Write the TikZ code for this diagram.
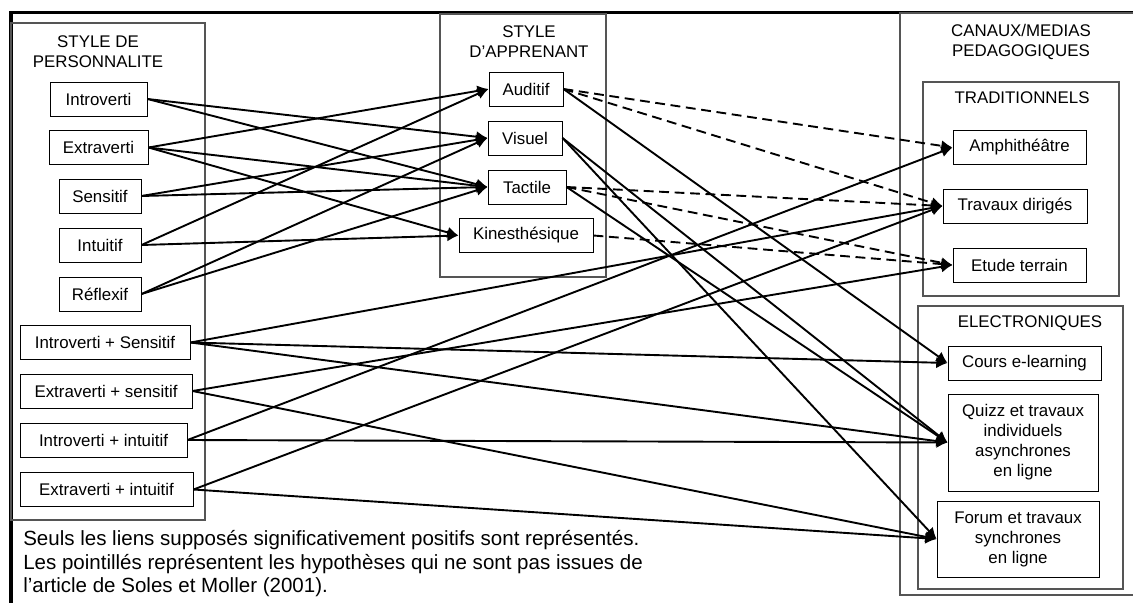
\documentclass[tikz,border=0pt]{standalone}
\usepackage{fontspec}
\setmainfont{Liberation Sans}
\usetikzlibrary{arrows.meta}
\definecolor{boxgray}{RGB}{85,85,85}

\tikzset{
  groupbox/.style={rectangle, draw=boxgray, line width=0.8pt, inner sep=0pt},
  grouptitle/.style={align=center, inner sep=0pt, font=\fontsize{12}{14.2}\selectfont},
  itembox/.style={rectangle, draw=black, line width=0.7pt, minimum height=0.85cm, inner sep=0pt, align=center, font=\fontsize{12}{14.2}\selectfont},
  link/.style={-{Latex[length=8pt,width=8pt]}, line width=1.35pt},
  hypo/.style={link, dash pattern=on 7pt off 4pt},
}

\begin{document}
\begin{tikzpicture}
\useasboundingbox (0,0) rectangle (28.325,-15.075);

% Outer frame
\draw[line width=2.2pt] (0.275,-15.2) -- (0.275,-0.3125) -- (28.5,-0.3125);

% Group boxes
\node[groupbox, minimum width=4.85cm, minimum height=12.425cm] (perso) at (2.7,-6.7875) {};
\node[grouptitle] (persotitle) at (2.45,-1.29) {STYLE DE\\PERSONNALITE};

\node[groupbox, minimum width=4.15cm, minimum height=6.575cm] (appr) at (13.075,-3.6375) {};
\node[grouptitle] (apprtitle) at (13.225,-1.05) {STYLE\\D’APPRENANT};

\node[groupbox, minimum width=6.2cm, minimum height=14.55cm] (canaux) at (25.6,-7.6) {};
\node[grouptitle] (canauxtitle) at (25.525,-1.05) {CANAUX/MEDIAS\\PEDAGOGIQUES};

\node[groupbox, minimum width=4.9cm, minimum height=5.35cm] (trad) at (25.525,-4.725) {};
\node[grouptitle] (tradtitle) at (25.55,-2.45) {TRADITIONNELS};

\node[groupbox, minimum width=5.125cm, minimum height=7.075cm] (elec) at (25.5125,-11.1875) {};
\node[grouptitle] (electitle) at (25.75,-8.075) {ELECTRONIQUES};

% Personality styles
\node[itembox, minimum width=2.425cm] (intro) at (2.4625,-2.475) {Introverti};
\node[itembox, minimum width=2.475cm] (extra) at (2.4625,-3.6875) {Extraverti};
\node[itembox, minimum width=2.05cm] (sensi) at (2.5,-4.9) {Sensitif};
\node[itembox, minimum width=2.05cm] (intui) at (2.5,-6.125) {Intuitif};
\node[itembox, minimum width=2.05cm] (reflex) at (2.5,-7.35) {Réflexif};
\node[itembox, minimum width=4.25cm] (introsens) at (2.625,-8.5625) {Introverti + Sensitif};
\node[itembox, minimum width=4.3cm] (extrasens) at (2.65,-9.775) {Extraverti + sensitif};
\node[itembox, minimum width=4.175cm] (introint) at (2.5875,-11.0) {Introverti + intuitif};
\node[itembox, minimum width=4.325cm] (extraint) at (2.6625,-12.2375) {Extraverti + intuitif};

% Learner styles
\node[itembox, minimum width=1.85cm] (audi) at (13.15,-2.225) {Auditif};
\node[itembox, minimum width=1.85cm] (visu) at (13.125,-3.45) {Visuel};
\node[itembox, minimum width=1.95cm] (tact) at (13.175,-4.675) {Tactile};
\node[itembox, minimum width=3.35cm] (kine) at (13.15,-5.8875) {Kinesthésique};

% Channels
\node[itembox, minimum width=3.325cm] (amphi) at (25.4875,-3.6875) {Amphithéâtre};
\node[itembox, minimum width=3.6cm] (td) at (25.375,-5.15) {Travaux dirigés};
\node[itembox, minimum width=3.325cm] (terrain) at (25.4875,-6.625) {Etude terrain};
\node[itembox, minimum width=3.825cm] (cours) at (25.6125,-9.075) {Cours e-learning};
\node[itembox, minimum width=3.75cm, minimum height=2.425cm] (quizz) at (25.575,-11.0625) {Quizz et travaux\\individuels\\asynchrones\\en ligne};
\node[itembox, minimum width=4.05cm, minimum height=1.9cm] (forum) at (25.45,-13.475) {Forum et travaux\\synchrones\\en ligne};

% Note
\node[anchor=west, align=left, inner sep=0pt, font=\fontsize{14.6}{16.7}\selectfont] (note) at (0.575,-14.1) {Seuls les liens supposés significativement positifs sont représentés.\\Les pointillés représentent les hypothèses qui ne sont pas issues de\\l’article de Soles et Moller (2001).};

% Personality -> learner
\draw[link] (intro.east) -- (visu.west);
\draw[link] (intro.east) -- (tact.west);
\draw[link] (extra.east) -- (audi.west);
\draw[link] (extra.east) -- (tact.west);
\draw[link] (extra.east) -- (kine.west);
\draw[link] (sensi.east) -- (visu.west);
\draw[link] (sensi.east) -- (tact.west);
\draw[link] (intui.east) -- (audi.west);
\draw[link] (intui.east) -- (kine.west);
\draw[link] (reflex.east) -- (visu.west);
\draw[link] (reflex.east) -- (tact.west);

% Learner -> channels
\draw[hypo] (audi.east) -- (amphi.west);
\draw[hypo] (audi.east) -- (td.west);
\draw[link] (audi.east) -- (cours.west);
\draw[link] (visu.east) -- (quizz.west);
\draw[link] (visu.east) -- (forum.west);
\draw[hypo] (tact.east) -- (td.west);
\draw[hypo] (tact.east) -- (terrain.west);
\draw[link] (tact.east) -- (quizz.west);
\draw[hypo] (kine.east) -- (terrain.west);

% Combined personality -> channels
\draw[link] (introsens.east) -- (td.west);
\draw[link] (introsens.east) -- (cours.west);
\draw[link] (introsens.east) -- (quizz.west);
\draw[link] (extrasens.east) -- (terrain.west);
\draw[link] (extrasens.east) -- (forum.west);
\draw[link] (introint.east) -- (amphi.west);
\draw[link] (introint.east) -- (quizz.west);
\draw[link] (extraint.east) -- (td.west);
\draw[link] (extraint.east) -- (forum.west);
\end{tikzpicture}
\end{document}
